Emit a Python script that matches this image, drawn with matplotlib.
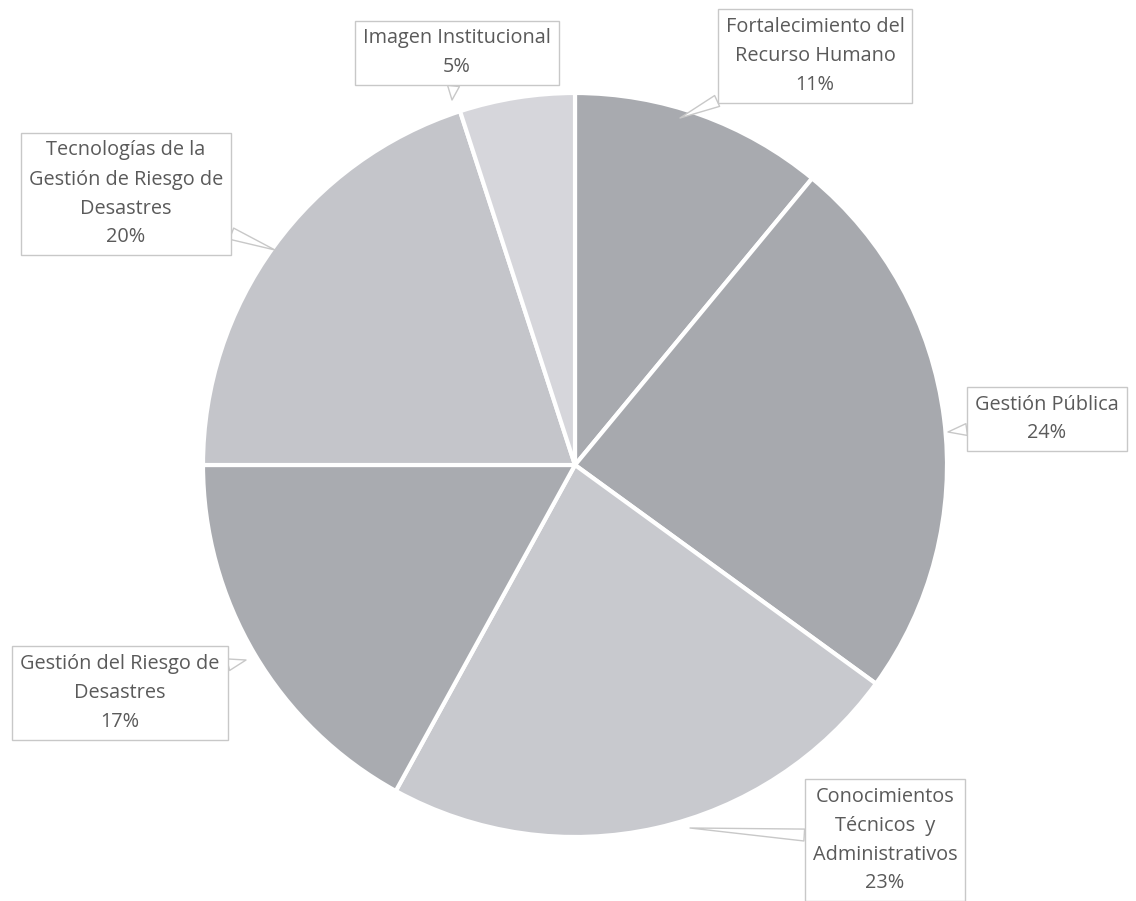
import matplotlib.pyplot as plt

labels = ['Fortalecimiento del\nRecurso Humano', 'Gestión Pública',
          'Conocimientos\nTécnicos  y\nAdministrativos', 'Gestión del Riesgo de\nDesastres',
          'Tecnologías de la\nGestión de Riesgo de\nDesastres', 'Imagen Institucional']
values = [11, 24, 23, 17, 20, 5]
colors = ['#a8aaaf', '#a7a9ae', '#c8c9ce', '#a9abb0', '#c4c5ca', '#d6d6db']

# label box centres and pointer tips, in pixels from the top-left
box_xy = [(815, 56), (1047, 419), (885, 840), (120, 693), (126, 194), (457, 53)]
tip_xy = [(680, 118), (948, 432), (690, 828), (246, 660), (275, 250), (452, 100)]

H = 901
plt.rcParams['font.family'] = ['Open Sans', 'DejaVu Sans']
fig = plt.figure(figsize=(11.36, 9.01), dpi=100)
ax = fig.add_axes([0, 0, 1, 1])

ax.pie(values, colors=colors, startangle=90, counterclock=False,
       center=(575, H - 465), radius=372,
       wedgeprops=dict(edgecolor='white', linewidth=3))

for lab, v, (bx, by), (tx, ty) in zip(labels, values, box_xy, tip_xy):
    ax.annotate(f'{lab}\n{v}%', xy=(tx, H - ty), xytext=(bx, H - by),
                ha='center', va='center', fontsize=14.3, color='#5a5a5a',
                linespacing=1.6,
                bbox=dict(boxstyle='square,pad=0.4', fc='white', ec='#c8c8c8', lw=1),
                arrowprops=dict(arrowstyle='wedge,tail_width=0.6,shrink_factor=0.5',
                                fc='white', ec='#c8c8c8', lw=1, shrinkA=0, shrinkB=0))

ax.set_xlim(0, 1136)
ax.set_ylim(0, H)
ax.set_aspect('equal')
ax.axis('off')
fig.savefig('out.png', dpi=100)
